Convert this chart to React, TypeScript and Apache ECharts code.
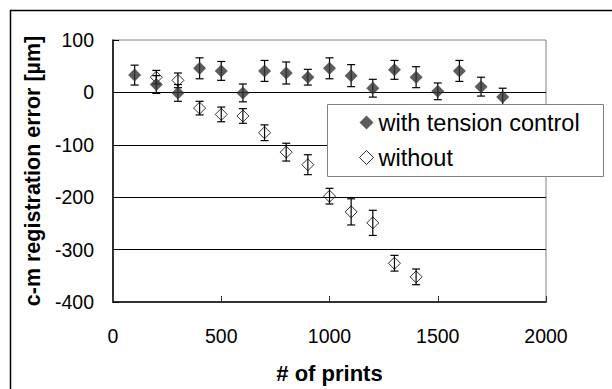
import React, { useEffect, useRef } from "react";
import * as echarts from "echarts";

const printsWith = [100, 200, 300, 400, 500, 600, 700, 800, 900, 1000, 1100, 1200, 1300, 1400, 1500, 1600, 1700, 1800];
const errorWith = [33, 15, -1, 46, 41, -1, 41, 37, 29, 46, 32, 8, 43, 29, 2, 41, 11, -9];
const spreadWith = [19, 17, 16, 20, 18, 17, 20, 21, 15, 20, 21, 17, 18, 20, 16, 20, 18, 17];

const printsWithout = [200, 300, 400, 500, 600, 700, 800, 900, 1000, 1100, 1200, 1300, 1400];
const errorWithout = [29, 23, -30, -42, -45, -77, -114, -138, -198, -228, -249, -326, -352];
const spreadWithout = [13, 14, 13, 14, 14, 15, 17, 19, 15, 25, 24, 15, 15];

const gridValues = [0, -100, -200, -300];

const FONT = "Liberation Sans, Arial, sans-serif";

function errorBarSeries(xs: number[], ys: number[], es: number[]) {
  return {
    type: "custom",
    silent: true,
    z: 5,
    data: xs.map((x, i) => [x, ys[i] - es[i], ys[i] + es[i]]),
    renderItem: (params: any, api: any) => {
      const x = api.value(0);
      const lo = api.coord([x, api.value(1)]);
      const hi = api.coord([x, api.value(2)]);
      const w = 4;
      const st = { stroke: "#000", lineWidth: 1.2, fill: "none" };
      return {
        type: "group",
        children: [
          { type: "line", shape: { x1: lo[0], y1: lo[1], x2: hi[0], y2: hi[1] }, style: st },
          { type: "line", shape: { x1: lo[0] - w, y1: lo[1], x2: lo[0] + w, y2: lo[1] }, style: st },
          { type: "line", shape: { x1: hi[0] - w, y1: hi[1], x2: hi[0] + w, y2: hi[1] }, style: st },
        ],
      };
    },
  };
}

export default function App() {
  const ref = useRef<HTMLDivElement>(null);
  useEffect(() => {
    document.body.style.margin = "0";
    const chart = echarts.init(ref.current!, null, { renderer: "svg" });
    chart.setOption({
      animation: false,
      backgroundColor: "#fff",
      grid: {
        left: 113,
        right: 66,
        top: 40,
        bottom: 85,
        show: true,
        borderColor: "#808080",
        borderWidth: 1,
      },
      xAxis: {
        type: "value",
        min: 0,
        max: 2000,
        interval: 500,
        name: "# of prints",
        nameLocation: "middle",
        nameGap: 60,
        nameTextStyle: { fontFamily: FONT, fontSize: 22, fontWeight: "bold", color: "#000" },
        axisLine: { show: true, onZero: false, lineStyle: { color: "#333", width: 2 } },
        axisTick: { show: true, inside: true, length: 6, lineStyle: { color: "#333" } },
        axisLabel: {
          fontFamily: FONT,
          fontSize: 19.5,
          color: "#000",
          margin: 24,
          formatter: (v: number) => String(v),
        },
        splitLine: { show: false },
      },
      yAxis: {
        type: "value",
        min: -400,
        max: 100,
        interval: 100,
        name: "c-m registration error [µm]",
        nameLocation: "middle",
        nameGap: 66,
        nameTextStyle: { fontFamily: FONT, fontSize: 21.5, fontWeight: "bold", color: "#000" },
        axisLine: { show: true, lineStyle: { color: "#000", width: 1.5 } },
        axisTick: { show: true, inside: true, length: 6, lineStyle: { color: "#000" } },
        axisLabel: { fontFamily: FONT, fontSize: 19.5, color: "#000", margin: 19 },
        splitLine: { show: false },
      },
      legend: {
        orient: "vertical",
        left: 359,
        top: 110,
        itemWidth: 14,
        itemHeight: 14,
        itemGap: 10,
        itemTextGap: 6,
        padding: 0,
        z: 10,
        textStyle: { fontFamily: FONT, fontSize: 23.5, color: "#000", lineHeight: 25 },
        data: [
          { name: "with tension control", icon: "diamond", itemStyle: { color: "#333", borderWidth: 0 } },
          { name: "without", icon: "diamond", itemStyle: { color: "#fff", borderColor: "#000", borderWidth: 1 } },
        ],
      },
      graphic: [
        {
          type: "rect",
          z: 8,
          shape: { x: 327.5, y: 104.5, width: 276, height: 72 },
          style: { fill: "#fff", stroke: "#808080", lineWidth: 1 },
        },
        {
          type: "rect",
          z: 20,
          silent: true,
          shape: { x: 10.5, y: 10.5, width: 640, height: 420 },
          style: { fill: "none", stroke: "#000", lineWidth: 1.5 },
        },
      ],
      series: [
        {
          name: "grid",
          type: "line",
          data: [],
          silent: true,
          markLine: {
            silent: true,
            symbol: "none",
            label: { show: false },
            lineStyle: { color: "#000", width: 1, type: "solid" },
            data: gridValues.map((v) => ({ yAxis: v })),
          },
        },
        errorBarSeries(printsWithout, errorWithout, spreadWithout),
        errorBarSeries(printsWith, errorWith, spreadWith),
        {
          name: "without",
          type: "scatter",
          symbol: "diamond",
          symbolSize: 12,
          z: 6,
          itemStyle: { color: "rgba(0,0,0,0)", borderColor: "#000", borderWidth: 1 },
          data: printsWithout.map((x, i) => [x, errorWithout[i]]),
        },
        {
          name: "with tension control",
          type: "scatter",
          symbol: "diamond",
          symbolSize: 13,
          z: 7,
          itemStyle: { color: "#333" },
          data: printsWith.map((x, i) => [x, errorWith[i]]),
        },
      ],
    });
    return () => chart.dispose();
  }, []);
  return <div ref={ref} style={{ width: 612, height: 389 }} />;
}
